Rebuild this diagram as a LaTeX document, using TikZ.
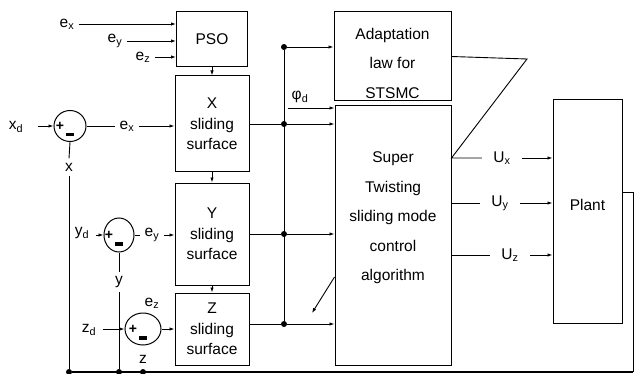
\documentclass[tikz,border=0pt]{standalone}
\usepackage{fontspec}
\setmainfont{Liberation Sans}
\usetikzlibrary{arrows.meta, positioning, shapes.geometric, calc}

\tikzset{
  blk/.style={draw, line width=1pt, align=center, font=\fontsize{15.5}{20.5}\selectfont},
  txt/.style={align=center, font=\fontsize{15.5}{29.5}\selectfont},
  lbl/.style={font=\fontsize{15.5}{18}\selectfont, inner sep=4pt},
  ulbl/.style={lbl, inner xsep=11pt},
  sumj/.style={draw, ellipse, line width=1pt, inner sep=0pt},
  arr/.style={-{Latex[length=5pt,width=3.5pt]}},
  dot/.style={circle, fill, inner sep=0pt, minimum size=6pt},
}

\begin{document}
\begin{tikzpicture}[x=1pt, y=-1pt, line width=0.9pt]
\useasboundingbox (0,0) rectangle (639,374);

% blocks
\node[blk, minimum width=71pt, minimum height=55pt] (pso) at (212,39.5) {PSO};
\node[blk, minimum width=74pt, minimum height=96pt] (xs) at (212,124) {X\\sliding\\surface};
\node[blk, minimum width=74pt, minimum height=102pt] (ys) at (212,234) {Y\\sliding\\surface};
\node[blk, minimum width=74pt, minimum height=72pt] (zs) at (212,329) {Z\\sliding\\surface};
\node[blk, minimum width=117pt, minimum height=89pt] (adapt) at (392.5,56.5) {};
\node[txt] (adaptText) at (392.5,63) {Adaptation\\law for\\STSMC};
\node[blk, minimum width=116pt, minimum height=259pt] (stsmc) at (393,235.5) {};
\node[txt] (stsmcText) at (393,218) {Super\\Twisting\\sliding mode\\control\\algorithm};
\node[blk, minimum width=69pt, minimum height=223pt] (plant) at (587.5,211.5) {};
\node[txt] (plantText) at (587.5,205) {Plant};

% summing junctions
\node[sumj, minimum width=32pt, minimum height=31pt] (sumx) at (70,126) {};
\node[sumj, minimum width=30pt, minimum height=34pt] (sumy) at (119,235) {};
\node[sumj, minimum width=36pt, minimum height=32pt] (sumz) at (143,329) {};
\foreach \s in {sumx,sumy,sumz}{
  \node[font=\bfseries\fontsize{14}{14}\selectfont, inner sep=0pt] at ([xshift=-10pt]\s.center) {+};
  \fill ([xshift=-4pt,yshift=-7pt]\s.center) rectangle ++(8pt,-3.5pt);
}

% PSO inputs
\node[lbl] (lex1) at (67,24) {e\textsubscript{x}};
\node[lbl] (ley1) at (115,41) {e\textsubscript{y}};
\node[lbl] (lez1) at (143,57) {e\textsubscript{z}};
\foreach \l in {lex1,ley1,lez1}
  \draw[arr] (\l.east) -- (\l.east -| pso.west);

% reference inputs and errors
\node[lbl] (lxd) at (16,127) {x\textsubscript{d}};
\node[lbl] (lyd) at (82,233) {y\textsubscript{d}};
\node[lbl] (lzd) at (89,330) {z\textsubscript{d}};
\draw[arr] ([xshift=10pt]lxd.east |- sumx.west) -- (sumx.west);
\draw[arr] ([xshift=2pt]lyd.east |- sumy.west) -- (sumy.west);
\draw[arr] ([xshift=2pt]lzd.east |- sumz.west) -- (sumz.west);

\node[lbl] (lex2) at (127,126) {e\textsubscript{x}};
\node[lbl] (ley2) at (152,235) {e\textsubscript{y}};
\node[lbl] (lez2) at (152,303) {e\textsubscript{z}};
\draw (sumx.east) -- (lex2.west);
\draw[arr] (lex2.east) -- (lex2.east -| xs.west);
\draw (sumy.east) -- (ley2.west);
\draw[arr] (ley2.east) -- (ley2.east -| ys.west);
\draw[arr] (sumz.east) -- (sumz.east -| zs.west);

% block chain
\draw[arr] (pso.south) -- (xs.north);
\draw[arr] (xs.south) -- (ys.north);
\draw[arr] (ys.south) -- (zs.north);

% bus
\node[dot] (b1) at (284,47) {};
\node[dot] (b2) at (284,124) {};
\node[dot] (b3) at (284,234) {};
\node[dot] (b4) at (284,324) {};
\draw (b1) -- (b4);
\draw (xs.east) -- (b2);
\draw (ys.east) -- (b3);
\draw ([yshift=5pt]zs.east) -- (b4);
\draw[arr] (b1) -- (b1 -| adapt.west);
\draw[arr] (b2) -- (b2 -| stsmc.west);
\draw[arr] (b3) -- (b3 -| stsmc.west);
\draw[arr] (b4) -- (b4 -| stsmc.west);
\node[lbl] (lphi) at (300,97) {φ\textsubscript{d}};
\coordinate (phi) at (288,108);
\draw[arr] (phi) -- (phi -| stsmc.west);
\coordinate (tip) at (312,313);
\draw[arr] ([yshift=-41.5pt]stsmc.west) -- (tip);

% control outputs
\node[ulbl] (lux) at (502,158) {U\textsubscript{x}};
\node[ulbl] (luy) at (500,203) {U\textsubscript{y}};
\node[ulbl] (luz) at (510,255) {U\textsubscript{z}};
\coordinate (apex) at (527,59);
\draw (adapt.east) -- (apex) -- (lux.west -| stsmc.east) -- (lux.west);
\draw (luy.west -| stsmc.east) -- (luy.west);
\draw (luz.west -| stsmc.east) -- (luz.west);
\foreach \l in {lux,luy,luz}
  \draw[arr] (\l.east) -- (\l.east -| plant.west);

% feedback
\node[lbl] (lx) at (69,167) {x};
\node[lbl] (ly) at (119,282) {y};
\node[lbl] (lz) at (143,359) {z};
\node[dot] (fx) at (69,372) {};
\node[dot] (fy) at (119,372) {};
\node[dot] (fz) at (143,372) {};
\coordinate (pout) at (622,192);
\coordinate (fb) at (633,372);
\draw (sumx.south) -- (lx.north);
\draw (lx.south) -- (fx);
\draw (sumy.south) -- (ly.north);
\draw (ly.south) -- (fy);
\draw (pout) -| (fb);
\draw[line width=1.6pt] (fb) -- (fx);
\end{tikzpicture}
\end{document}
